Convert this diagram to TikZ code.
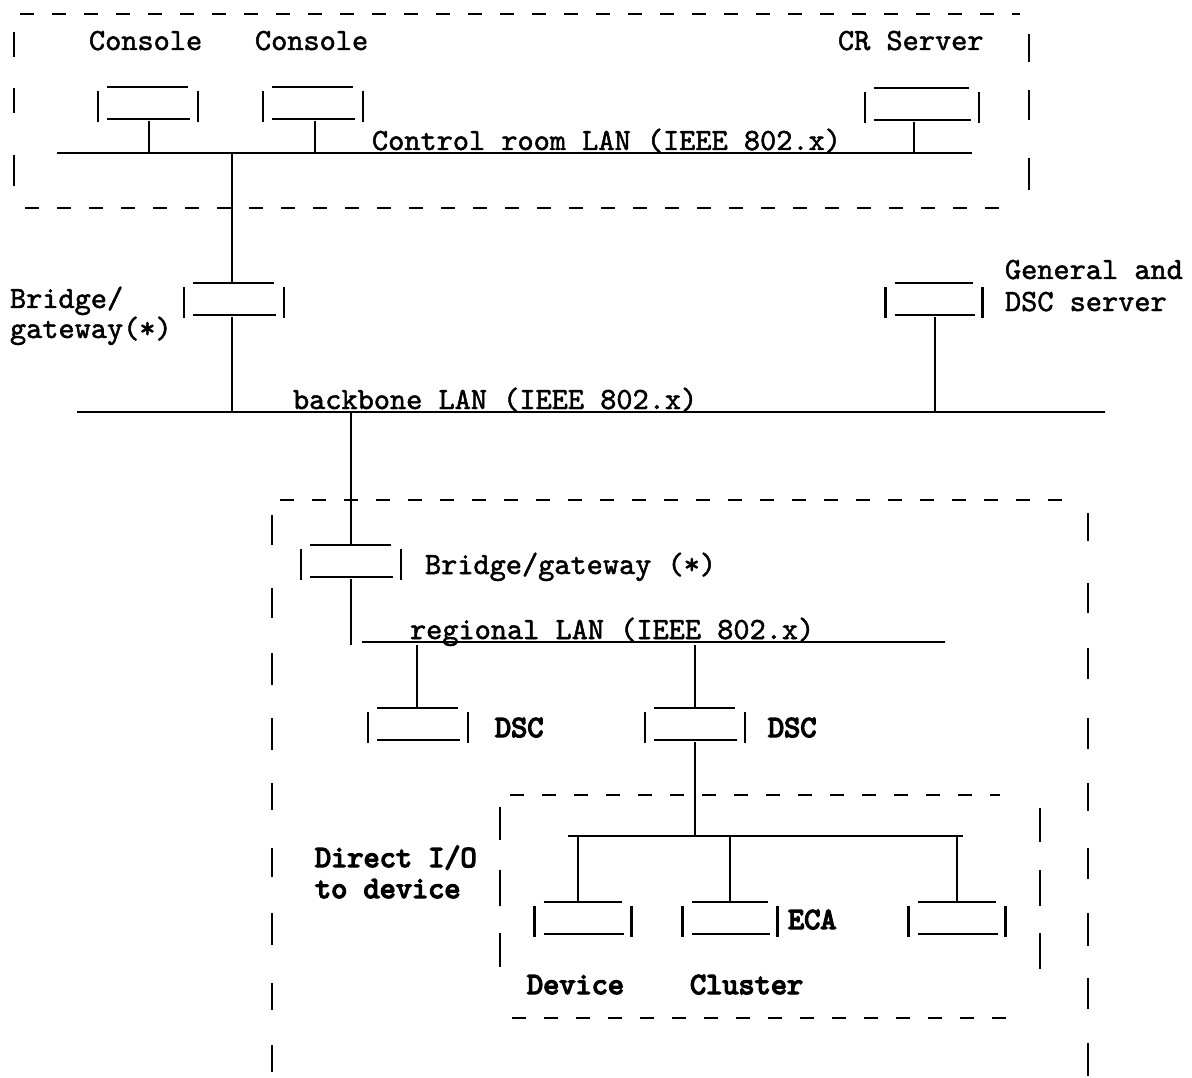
\documentclass[tikz,border=0pt]{standalone}
\usepackage{fontspec}
\usetikzlibrary{calc}

% Typewriter faces: Latin Modern Mono, slightly emboldened for a ribbon look
\newfontface\typeface{lmmono10-regular.otf}[RawFeature={embolden=1.6}]
\newfontface\typefacebold{lmmono10-regular.otf}[RawFeature={embolden=4.5}]

\tikzset{
  wire/.style={line width=2.2pt},
  frame/.style={line width=2.2pt, dash pattern=on 14pt off 18pt},
  lbl/.style={anchor=base west, inner sep=0pt, outer sep=0pt,
    font=\typeface\fontsize{30.8}{34}\selectfont},
  blbl/.style={lbl, font=\typefacebold\fontsize{30.8}{34}\selectfont},
  unit/.style={rectangle, draw=none, anchor=north, minimum width=100pt,
    minimum height=32pt, inner sep=0pt, outer sep=0pt},
}

% A typewriter-style station box: top rule, bottom rule and side bars.
\newcommand\unitbox[3][]{%
  \node[unit,#1] (#2) at #3 {};
  \draw[wire] ($(#2.north west)+(9,0)$) -- ($(#2.north east)+(-10,0)$);
  \draw[wire] ($(#2.south west)+(9,0)$) -- ($(#2.south east)+(-8,0)$);
  \draw[wire] ($(#2.north west)+(0,4)$) -- ($(#2.south west)+(0,3)$);
  \draw[wire] ($(#2.north east)+(0,4)$) -- ($(#2.south east)+(0,3)$);
}

\begin{document}
\begin{tikzpicture}[x=1pt,y=-1pt]
\useasboundingbox (0,0) rectangle (1192,1078);

% ---------------- control room frame ----------------
\draw[frame] (20,14) -- (1020,14);
\draw[frame] (25,208) -- (1015,208);
\foreach \a/\b in {32/57,88/113,155/186} \draw[wire] (14,\a) -- (14,\b);
\foreach \a/\b in {34/62,90/120,158/190} \draw[wire] (1029,\a) -- (1029,\b);

% ---------------- regional frame ----------------
\draw[frame] (280,500) -- (1075,500);
\foreach \a/\b in {515/545,588/618,653/685,718/750,783/810,848/877,913/945,983/1010,1045/1072}
  \draw[wire] (272,\a) -- (272,\b);
\foreach \a/\b in {513/541,583/613,648/679,718/749,783/811,848/879,913/946,978/1009,1043/1076}
  \draw[wire] (1088,\a) -- (1088,\b);

% ---------------- cluster frame ----------------
\draw[frame] (510,795) -- (1000,795);
\draw[frame] (512,1018) -- (1015,1018);
\foreach \a/\b in {807/840,870/906,933/967} \draw[wire] (500,\a) -- (500,\b);
\foreach \a/\b in {808/842,870/906,933/969} \draw[wire] (1040,\a) -- (1040,\b);

% ---------------- LAN segments ----------------
\coordinate (crlanW) at (57,153);   \coordinate (crlanE) at (972,153);
\coordinate (bbW) at (77,412);      \coordinate (bbE) at (1105,412);
\coordinate (regW) at (362,642);    \coordinate (regE) at (945,642);
\coordinate (cluW) at (568,836);    \coordinate (cluE) at (963,836);
\draw[wire] (crlanW) -- (crlanE);
\draw[wire] (bbW) -- (bbE);
\draw[wire] (regW) -- (regE);
\draw[wire] (cluW) -- (cluE);

% ---------------- stations ----------------
\unitbox{con1}{(148,87)}
\unitbox{con2}{(313,87)}
\unitbox[minimum width=114pt]{crs}{(922,88)}
\unitbox{br1}{(234,283)}
\unitbox[minimum width=97pt]{gen}{(934,283)}
\unitbox{br2}{(351,545)}
\unitbox{dsc1}{(418,708)}
\unitbox{dsc2}{(695,708)}
\unitbox[minimum width=97pt]{dev}{(583,902)}
\unitbox[minimum width=95pt]{eca}{(730,902)}
\unitbox[minimum width=97pt]{unit3}{(957,902)}

% ---------------- drops ----------------
\draw[wire] ($(con1.south)+(1,2)$) -- ($(con1.south |- crlanW)+(1,0)$);
\draw[wire] ($(con2.south)+(2,2)$) -- ($(con2.south |- crlanW)+(2,0)$);
\draw[wire] ($(crs.south)+(-8,2)$) -- ($(crs.south |- crlanW)+(-8,0)$);
\draw[wire] ($(br1.north |- crlanW)+(-2,0)$) -- ($(br1.north)+(-2,0)$);
\draw[wire] ($(br1.south)+(-2,2)$) -- ($(br1.south |- bbW)+(-2,0)$);
\draw[wire] ($(gen.south)+(1,2)$) -- ($(gen.south |- bbW)+(1,0)$);
\draw[wire] (br2.north |- bbW) -- (br2.north);
\draw[wire] ($(br2.south)+(0,2)$) -- ($(br2.south |- regW)+(0,3)$);
\draw[wire] ($(dsc1.north |- regW)+(-1,3)$) -- ($(dsc1.north)+(-1,0)$);
\draw[wire] ($(dsc2.north |- regW)+(0,3)$) -- (dsc2.north);
\draw[wire] ($(dsc2.south)+(0,2)$) -- (dsc2.south |- cluW);
\draw[wire] ($(dev.north |- cluW)+(-5,0)$) -- ($(dev.north)+(-5,0)$);
\draw[wire] (eca.north |- cluW) -- (eca.north);
\draw[wire] (unit3.north |- cluW) -- (unit3.north);

% ---------------- labels ----------------
\node[lbl] (tc1) at (89,50) {Console};
\node[lbl] (tc2) at (255,50) {Console};
\node[lbl] (tcr) at (838,50) {CR Server};
\node[lbl] (tcrlan) at (372,150) {Control room LAN (IEEE 802.x)};
\node[lbl] (tbr1a) at (10,308) {Bridge/};
\node[lbl] (tbr1b) at (10,338) {gateway(*)};
\node[lbl] (tgen1) at (1005,279) {General and};
\node[lbl] (tgen2) at (1005,311) {DSC server};
\node[lbl] (tbb) at (293,409) {backbone LAN (IEEE 802.x)};
\node[lbl] (tbr2) at (425,574) {Bridge/gateway (*)};
\node[lbl] (treg) at (410,639) {regional LAN (IEEE 802.x)};
\node[blbl] (tdsc1) at (495,737) {DSC};
\node[blbl] (tdsc2) at (768,737) {DSC};
\node[blbl] (tdir1) at (315,867) {Direct I/O};
\node[blbl] (tdir2) at (315,898) {to device};
\node[blbl] (teca) at (788,929) {ECA};
\node[blbl] (tdev) at (527,994) {Device};
\node[blbl] (tclu) at (690,994) {Cluster};
\end{tikzpicture}
\end{document}
